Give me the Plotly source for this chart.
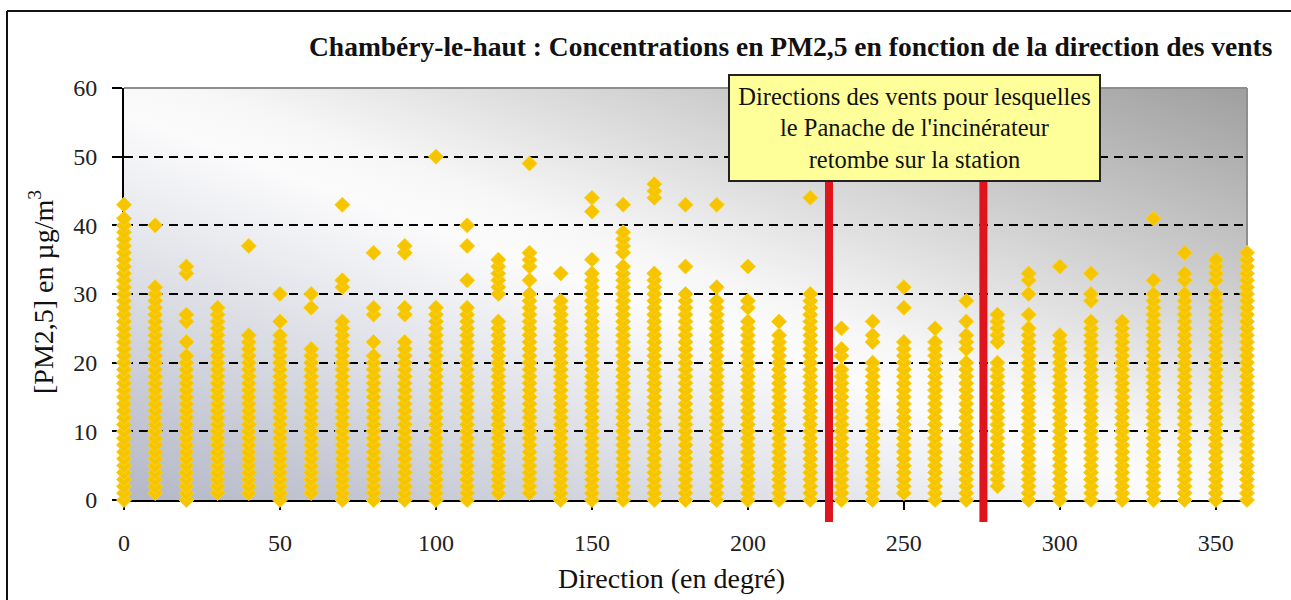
import base64
import plotly.graph_objects as go

# Wind direction classes (degrees)
directions = [0, 10, 20, 30, 40, 50, 60, 70, 80, 90, 100, 110, 120, 130, 140, 150, 160, 170,
              180, 190, 200, 210, 220, 230, 240, 250, 260, 270, 280, 290, 300, 310, 320, 330,
              340, 350, 360]

# PM2.5 concentrations (µg/m3) observed for each wind direction class
pm_000 = [0, 1, 2, 3, 4, 5, 6, 7, 8, 9, 10, 11, 12, 13, 14, 15, 16, 17, 18, 19, 20, 21, 22, 23, 24, 25, 26, 27, 28, 29, 30, 31, 32, 33, 34, 35, 36, 37, 38, 39, 40, 41, 43]
pm_010 = [1, 2, 3, 4, 5, 6, 7, 8, 9, 10, 11, 12, 13, 14, 15, 16, 17, 18, 19, 20, 21, 22, 23, 24, 25, 26, 27, 28, 29, 30, 31, 40]
pm_020 = [0, 1, 2, 3, 4, 5, 6, 7, 8, 9, 10, 11, 12, 13, 14, 15, 16, 17, 18, 19, 20, 21, 23, 26, 27, 33, 34]
pm_030 = [1, 2, 3, 4, 5, 6, 7, 8, 9, 10, 11, 12, 13, 14, 15, 16, 17, 18, 19, 20, 21, 22, 23, 24, 25, 26, 27, 28]
pm_040 = [1, 2, 3, 4, 5, 6, 7, 8, 9, 10, 11, 12, 13, 14, 15, 16, 17, 18, 19, 20, 21, 22, 23, 24, 37]
pm_050 = [0, 1, 2, 3, 4, 5, 6, 7, 8, 9, 10, 11, 12, 13, 14, 15, 16, 17, 18, 19, 20, 21, 22, 23, 24, 26, 30]
pm_060 = [1, 2, 3, 4, 5, 6, 7, 8, 9, 10, 11, 12, 13, 14, 15, 16, 17, 18, 19, 20, 21, 22, 28, 30]
pm_070 = [0, 1, 2, 3, 4, 5, 6, 7, 8, 9, 10, 11, 12, 13, 14, 15, 16, 17, 18, 19, 20, 21, 22, 23, 24, 25, 26, 31, 32, 43]
pm_080 = [0, 1, 2, 3, 4, 5, 6, 7, 8, 9, 10, 11, 12, 13, 14, 15, 16, 17, 18, 19, 20, 21, 23, 27, 28, 36]
pm_090 = [0, 1, 2, 3, 4, 5, 6, 7, 8, 9, 10, 11, 12, 13, 14, 15, 16, 17, 18, 19, 20, 21, 22, 23, 27, 28, 36, 37]
pm_100 = [0, 1, 2, 3, 4, 5, 6, 7, 8, 9, 10, 11, 12, 13, 14, 15, 16, 17, 18, 19, 20, 21, 22, 23, 24, 25, 26, 27, 28, 50]
pm_110 = [0, 1, 2, 3, 4, 5, 6, 7, 8, 9, 10, 11, 12, 13, 14, 15, 16, 17, 18, 19, 20, 21, 22, 23, 24, 25, 26, 27, 28, 32, 37, 40]
pm_120 = [1, 2, 3, 4, 5, 6, 7, 8, 9, 10, 11, 12, 13, 14, 15, 16, 17, 18, 19, 20, 21, 22, 23, 24, 25, 26, 30, 31, 32, 33, 34, 35]
pm_130 = [1, 2, 3, 4, 5, 6, 7, 8, 9, 10, 11, 12, 13, 14, 15, 16, 17, 18, 19, 20, 21, 22, 23, 24, 25, 26, 27, 28, 29, 30, 32, 34, 35, 36, 49]
pm_140 = [0, 1, 2, 3, 4, 5, 6, 7, 8, 9, 10, 11, 12, 13, 14, 15, 16, 17, 18, 19, 20, 21, 22, 23, 24, 25, 26, 27, 28, 29, 33]
pm_150 = [0, 1, 2, 3, 4, 5, 6, 7, 8, 9, 10, 11, 12, 13, 14, 15, 16, 17, 18, 19, 20, 21, 22, 23, 24, 25, 26, 27, 28, 29, 30, 31, 32, 33, 35, 42, 44]
pm_160 = [0, 1, 2, 3, 4, 5, 6, 7, 8, 9, 10, 11, 12, 13, 14, 15, 16, 17, 18, 19, 20, 21, 22, 23, 24, 25, 26, 27, 28, 29, 30, 31, 32, 33, 34, 36, 37, 38, 39, 43]
pm_170 = [0, 1, 2, 3, 4, 5, 6, 7, 8, 9, 10, 11, 12, 13, 14, 15, 16, 17, 18, 19, 20, 21, 22, 23, 24, 25, 26, 27, 28, 29, 30, 31, 32, 33, 44, 45, 46]
pm_180 = [0, 1, 2, 3, 4, 5, 6, 7, 8, 9, 10, 11, 12, 13, 14, 15, 16, 17, 18, 19, 20, 21, 22, 23, 24, 25, 26, 27, 28, 29, 30, 34, 43]
pm_190 = [0, 1, 2, 3, 4, 5, 6, 7, 8, 9, 10, 11, 12, 13, 14, 15, 16, 17, 18, 19, 20, 21, 22, 23, 24, 25, 26, 27, 28, 29, 31, 43]
pm_200 = [0, 1, 2, 3, 4, 5, 6, 7, 8, 9, 10, 11, 12, 13, 14, 15, 16, 17, 18, 19, 20, 21, 22, 23, 24, 25, 26, 28, 29, 34]
pm_210 = [0, 1, 2, 3, 4, 5, 6, 7, 8, 9, 10, 11, 12, 13, 14, 15, 16, 17, 18, 19, 20, 21, 22, 23, 24, 26]
pm_220 = [0, 1, 2, 3, 4, 5, 6, 7, 8, 9, 10, 11, 12, 13, 14, 15, 16, 17, 18, 19, 20, 21, 22, 23, 24, 25, 26, 27, 28, 29, 30, 44]
pm_230 = [0, 1, 2, 3, 4, 5, 6, 7, 8, 9, 10, 11, 12, 13, 14, 15, 16, 17, 18, 19, 21, 22, 25]
pm_240 = [0, 1, 2, 3, 4, 5, 6, 7, 8, 9, 10, 11, 12, 13, 14, 15, 16, 17, 18, 19, 20, 23, 24, 26]
pm_250 = [1, 2, 3, 4, 5, 6, 7, 8, 9, 10, 11, 12, 13, 14, 15, 16, 17, 18, 19, 20, 21, 22, 23, 28, 31]
pm_260 = [0, 1, 2, 3, 4, 5, 6, 7, 8, 9, 10, 11, 12, 13, 14, 15, 16, 17, 18, 19, 20, 21, 22, 23, 25]
pm_270 = [0, 1, 2, 3, 4, 5, 6, 7, 8, 9, 10, 11, 12, 13, 14, 15, 16, 17, 18, 19, 20, 22, 23, 24, 26, 29]
pm_280 = [2, 3, 4, 5, 6, 7, 8, 9, 10, 11, 12, 13, 14, 15, 16, 17, 18, 19, 20, 23, 24, 25, 26, 27]
pm_290 = [0, 1, 2, 3, 4, 5, 6, 7, 8, 9, 10, 11, 12, 13, 14, 15, 16, 17, 18, 19, 20, 21, 22, 23, 24, 25, 27, 30, 32, 33]
pm_300 = [0, 1, 2, 3, 4, 5, 6, 7, 8, 9, 10, 11, 12, 13, 14, 15, 16, 17, 18, 19, 20, 21, 22, 23, 24, 34]
pm_310 = [0, 1, 2, 3, 4, 5, 6, 7, 8, 9, 10, 11, 12, 13, 14, 15, 16, 17, 18, 19, 20, 21, 22, 23, 24, 25, 26, 29, 30, 33]
pm_320 = [0, 1, 2, 3, 4, 5, 6, 7, 8, 9, 10, 11, 12, 13, 14, 15, 16, 17, 18, 19, 20, 21, 22, 23, 24, 25, 26]
pm_330 = [0, 1, 2, 3, 4, 5, 6, 7, 8, 9, 10, 11, 12, 13, 14, 15, 16, 17, 18, 19, 20, 21, 22, 23, 24, 25, 26, 27, 28, 29, 30, 32, 41]
pm_340 = [0, 1, 2, 3, 4, 5, 6, 7, 8, 9, 10, 11, 12, 13, 14, 15, 16, 17, 18, 19, 20, 21, 22, 23, 24, 25, 26, 27, 28, 29, 30, 32, 33, 36]
pm_350 = [0, 1, 2, 3, 4, 5, 6, 7, 8, 9, 10, 11, 12, 13, 14, 15, 16, 17, 18, 19, 20, 21, 22, 23, 24, 25, 26, 27, 28, 29, 30, 32, 33, 34, 35]
pm_360 = [0, 1, 2, 3, 4, 5, 6, 7, 8, 9, 10, 11, 12, 13, 14, 15, 16, 17, 18, 19, 20, 21, 22, 23, 24, 25, 26, 27, 28, 29, 30, 31, 32, 33, 34, 35, 36]

concentrations = [pm_000, pm_010, pm_020, pm_030, pm_040, pm_050, pm_060, pm_070, pm_080,
                  pm_090, pm_100, pm_110, pm_120, pm_130, pm_140, pm_150, pm_160, pm_170,
                  pm_180, pm_190, pm_200, pm_210, pm_220, pm_230, pm_240, pm_250, pm_260,
                  pm_270, pm_280, pm_290, pm_300, pm_310, pm_320, pm_330, pm_340, pm_350,
                  pm_360]

# Wind sector for which the incinerator plume falls back on the station
plume_sector = [226, 275.5]

y_ticks = [0, 10, 20, 30, 40, 50, 60]
x_ticks = [0, 50, 100, 150, 200, 250, 300, 350]

title_text = "Chambéry-le-haut : Concentrations en PM2,5 en fonction de la direction des vents"
box_text = ("Directions des vents pour lesquelles<br>le Panache de l'incinérateur"
            "<br>retombe sur la station")

FONT = "Liberation Serif"
W, H = 1291, 600
ML, MR, MT, MB = 124, 44, 88, 100
PW, PH = W - ML - MR, H - MT - MB


def px_x(px):
    return (px - ML) / PW


def px_y(py):
    return (H - MB - py) / PH


xs, ys = [], []
for d, vals in zip(directions, concentrations):
    xs.extend([d] * len(vals))
    ys.extend(vals)

fig = go.Figure()
fig.add_trace(go.Scatter(
    x=xs, y=ys, mode="markers", cliponaxis=False, hoverinfo="skip",
    marker=dict(symbol="diamond", size=11.5, color="#F6C500",
                line=dict(color="#F9D21E", width=1)),
))

# Diagonal grey shading of the plot area
grad_svg = (
    "<svg xmlns='http://www.w3.org/2000/svg' width='100' height='100' "
    "viewBox='0 0 1 1' preserveAspectRatio='none'>"
    "<defs><linearGradient id='g' x1='0' y1='1' x2='1' y2='0'>"
    "<stop offset='0' stop-color='#b3b7c6'/>"
    "<stop offset='0.47' stop-color='#fbfbfc'/>"
    "<stop offset='0.53' stop-color='#f7f7f7'/>"
    "<stop offset='1' stop-color='#9f9f9f'/>"
    "</linearGradient></defs>"
    "<rect x='0' y='0' width='1' height='1' fill='url(#g)'/></svg>"
)
grad_src = "data:image/svg+xml;base64," + base64.b64encode(grad_svg.encode()).decode()
fig.add_layout_image(dict(
    source=grad_src, xref="paper", yref="paper", x=0, y=1, sizex=1, sizey=1,
    xanchor="left", yanchor="top", sizing="stretch", layer="below",
))

shapes = [
    # grey frame on top and right of the plot area
    dict(type="line", xref="paper", yref="paper", x0=0, x1=1, y0=1, y1=1,
         line=dict(color="#8e8e8e", width=2), layer="between"),
    dict(type="line", xref="paper", yref="paper", x0=1, x1=1, y0=0, y1=1,
         line=dict(color="#8e8e8e", width=2), layer="between"),
    # outer chart frame
    dict(type="line", xref="paper", yref="paper", x0=px_x(7), x1=px_x(W), y0=px_y(11), y1=px_y(11),
         line=dict(color="#111111", width=2)),
    dict(type="line", xref="paper", yref="paper", x0=px_x(7), x1=px_x(7), y0=px_y(11), y1=px_y(H),
         line=dict(color="#111111", width=2)),
]
for xd in plume_sector:
    shapes.append(dict(type="line", xref="x", yref="paper", x0=xd, x1=xd,
                       y0=px_y(522), y1=px_y(180),
                       line=dict(color="#E0141C", width=8), layer="above"))
fig.update_layout(shapes=shapes)

annotations = [
    dict(text=f"<b>{title_text}</b>", xref="paper", yref="paper",
         x=px_x(1275), y=px_y(46), xanchor="right", yanchor="middle", showarrow=False,
         font=dict(family=FONT, size=27.5, color="#111111")),
    dict(text="Direction (en degré)", xref="paper", yref="paper",
         x=px_x(671), y=px_y(578), xanchor="center", yanchor="middle", showarrow=False,
         font=dict(family=FONT, size=28, color="#111111")),
    dict(text="[PM2,5] en µg/m<sup>3</sup>", xref="paper", yref="paper",
         x=px_x(41), y=px_y(292), xanchor="center", yanchor="middle", showarrow=False,
         textangle=-90, font=dict(family=FONT, size=28, color="#111111")),
    dict(text=box_text, xref="paper", yref="paper", x=px_x(914), y=px_y(128),
         xanchor="center", yanchor="middle", showarrow=False,
         align="center", bgcolor="#FFFF99", bordercolor="#222222", borderwidth=2,
         borderpad=6, width=357, height=92,
         font=dict(family=FONT, size=24.5, color="#111111")),
]
fig.update_layout(annotations=annotations)

fig.update_xaxes(
    range=[0, 360], tickvals=x_ticks, ticks="outside", ticklen=8, tickwidth=2,
    tickcolor="black", showline=True, linecolor="black", linewidth=2,
    showgrid=False, zeroline=False, layer="below traces", ticklabelstandoff=12,
    tickfont=dict(family=FONT, size=24, color="#222222"),
)
fig.update_yaxes(
    range=[0, 60], tickvals=y_ticks, ticks="outside", ticklen=10, tickwidth=2,
    tickcolor="black", showline=True, linecolor="black", linewidth=2,
    showgrid=True, gridcolor="black", gridwidth=2, griddash="9px,6px",
    zeroline=False, layer="below traces", ticklabelstandoff=10,
    tickfont=dict(family=FONT, size=24, color="#222222"),
)

fig.update_layout(
    width=W, height=H, margin=dict(l=ML, r=MR, t=MT, b=MB),
    paper_bgcolor="white", plot_bgcolor="white", showlegend=False,
    font=dict(family=FONT),
)

fig.write_html("out.html")
